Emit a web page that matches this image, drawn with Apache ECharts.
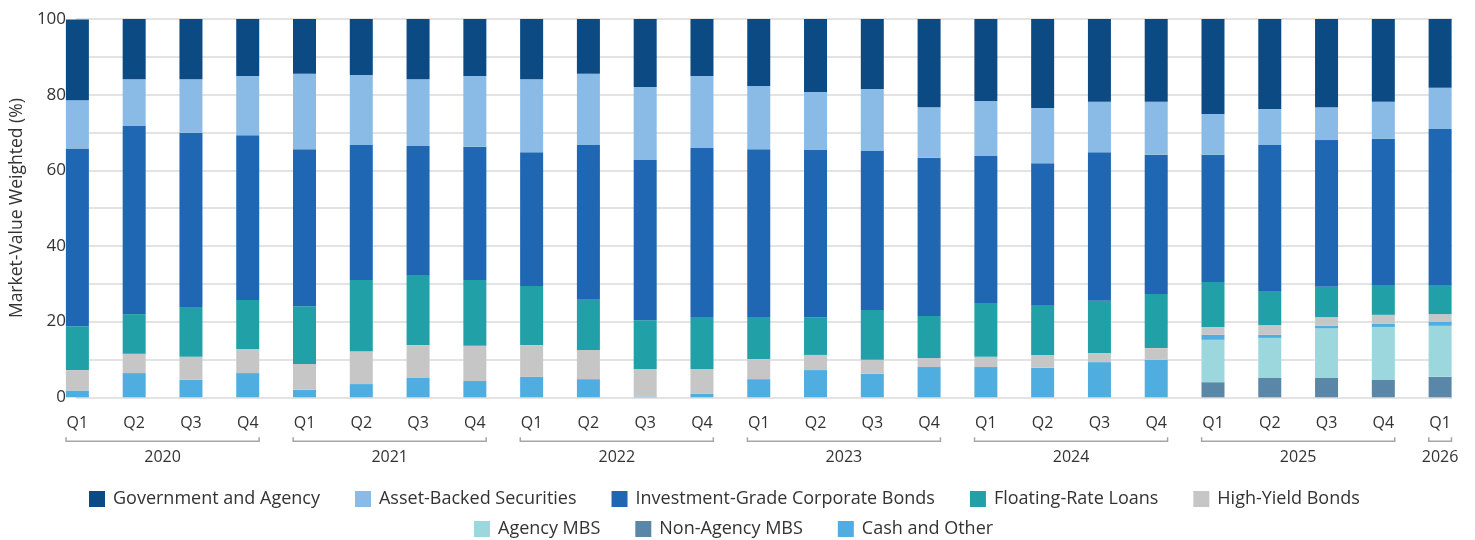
<!DOCTYPE html>
<html>
<head>
<meta charset="utf-8">
<script src="https://cdn.jsdelivr.net/npm/echarts@6/dist/echarts.min.js"></script>
<style>
  html, body { margin: 0; padding: 0; background: #fff; }
  #chart { width: 1475px; height: 540px; }
</style>
</head>
<body>
<div id="chart"></div>
<script>
const quarters = [
  'Q1','Q2','Q3','Q4', 'Q1','Q2','Q3','Q4', 'Q1','Q2','Q3','Q4',
  'Q1','Q2','Q3','Q4', 'Q1','Q2','Q3','Q4', 'Q1','Q2','Q3','Q4', 'Q1'
];

// year groups: first and last quarter index of each year
const yearLabels = ['2020', '2021', '2022', '2023', '2024', '2025', '2026'];
const yearStart = [0, 4, 8, 12, 16, 20, 24];
const yearEnd = [3, 7, 11, 15, 19, 23, 24];

// values in %, stacked bottom to top
const nonAgencyMbs = [0,0,0,0, 0,0,0,0, 0,0,0,0, 0,0,0,0, 0,0,0,0, 4.0,5.1,5.1,4.6, 5.4];
const agencyMbs = [0,0,0,0, 0,0,0,0, 0,0,0,0, 0,0,0,0, 0,0,0,0, 11.2,10.6,13.2,14.0, 13.5];
const cashOther = [1.8,6.4,4.6,6.4, 2.0,3.5,5.1,4.3, 5.4,4.8,0.2,0.9, 4.8,7.2,6.2,8.0, 8.0,7.8,9.3,9.9, 1.3,0.8,0.6,0.8, 1.0];
const highYield = [5.4,5.1,6.1,6.4, 6.8,8.7,8.7,9.3, 8.4,7.7,7.3,6.6, 5.3,4.0,3.7,2.4, 2.7,3.4,2.4,3.1, 2.1,2.6,2.3,2.4, 2.1];
const floatingRate = [11.6,10.5,13.2,12.9, 15.3,18.8,18.3,17.4, 15.6,13.5,12.9,13.5, 11.1,10.0,13.2,11.1, 14.2,13.2,13.8,14.3, 11.9,9.0,8.0,7.9, 7.7];
const igCorporate = [47.0,49.7,46.0,43.6, 41.5,35.7,34.3,35.2, 35.4,40.7,42.3,44.9, 44.4,44.2,42.0,41.8, 38.9,37.5,39.3,36.8, 33.6,38.6,38.8,38.6, 41.2];
const assetBacked = [12.7,12.4,14.2,15.6, 19.9,18.5,17.7,18.7, 19.3,18.8,19.3,19.0, 16.7,15.3,16.4,13.4, 14.5,14.6,13.3,14.0, 10.8,9.5,8.7,9.8, 10.9];
const govAgency = [21.4,15.9,15.9,15.1, 14.5,14.8,15.9,15.1, 15.9,14.5,18.0,15.1, 17.7,19.3,18.5,23.3, 21.7,23.5,21.9,21.9, 25.1,23.8,23.3,21.9, 18.2];

const FONT = '"Open Sans", "Noto Sans", sans-serif';
const TEXT = '#333333';

const stackSeries = [
  { name: 'Non-Agency MBS', data: nonAgencyMbs, color: '#5A87A8' },
  { name: 'Agency MBS', data: agencyMbs, color: '#9DD7DE' },
  { name: 'Cash and Other', data: cashOther, color: '#4FADE0' },
  { name: 'High-Yield Bonds', data: highYield, color: '#C6C6C6' },
  { name: 'Floating-Rate Loans', data: floatingRate, color: '#21A0A8' },
  { name: 'Investment-Grade Corporate Bonds', data: igCorporate, color: '#1F67B2' },
  { name: 'Asset-Backed Securities', data: assetBacked, color: '#8ABBE6' },
  { name: 'Government and Agency', data: govAgency, color: '#0B4A82' }
];

const chart = echarts.init(document.getElementById('chart'), null, { renderer: 'canvas' });

const legendBase = {
  orient: 'horizontal',
  icon: 'rect',
  itemWidth: 16,
  itemHeight: 16,
  itemGap: 35,
  padding: 0,
  selectedMode: false,
  textStyle: { fontFamily: FONT, fontSize: 18, color: TEXT, padding: [0, 0, 0, 3] }
};

const option = {
  backgroundColor: '#ffffff',
  animation: false,
  textStyle: { fontFamily: FONT },
  legend: [
    Object.assign({}, legendBase, {
      left: 89,
      top: 490,
      data: ['Government and Agency', 'Asset-Backed Securities', 'Investment-Grade Corporate Bonds',
             'Floating-Rate Loans', 'High-Yield Bonds']
    }),
    Object.assign({}, legendBase, {
      left: 474,
      top: 520,
      data: ['Agency MBS', 'Non-Agency MBS', 'Cash and Other']
    })
  ],
  grid: [
    // gridlines + y labels
    { left: 66, right: 23, top: 19, bottom: 142.7 },
    // bars
    { left: 49, right: 6.5, top: 19, bottom: 142.7 }
  ],
  xAxis: [
    { type: 'value', gridIndex: 0, show: false, min: 0, max: 1 },
    {
      type: 'category',
      gridIndex: 1,
      data: quarters,
      axisLine: { show: false },
      axisTick: { show: false },
      axisLabel: { color: TEXT, fontSize: 16, fontFamily: FONT, margin: 18, interval: 0 }
    }
  ],
  yAxis: [
    {
      type: 'value',
      gridIndex: 0,
      min: 0,
      max: 100,
      interval: 10,
      name: 'Market-Value Weighted (%)',
      nameLocation: 'middle',
      nameGap: 46,
      nameTextStyle: { color: TEXT, fontSize: 17.5, fontFamily: FONT },
      axisLine: { show: false },
      axisTick: { show: false },
      axisLabel: {
        color: TEXT,
        fontSize: 17,
        fontFamily: FONT,
        margin: 10,
        formatter: v => (v % 20 === 0 ? String(v) : '')
      },
      splitLine: { show: true, lineStyle: { color: '#E3E3E3', width: 2 } }
    },
    { type: 'value', gridIndex: 1, min: 0, max: 100, show: false, splitLine: { show: false } }
  ],
  series: stackSeries.map(s => ({
    name: s.name,
    type: 'bar',
    stack: 'total',
    xAxisIndex: 1,
    yAxisIndex: 1,
    barWidth: 23,
    itemStyle: { color: s.color },
    emphasis: { disabled: true },
    data: s.data
  })).concat([{
    name: 'years',
    type: 'custom',
    xAxisIndex: 1,
    yAxisIndex: 1,
    clip: false,
    silent: true,
    data: yearStart.map((s, i) => [s, yearEnd[i], 0]),
    encode: { x: [0, 1], y: 2 },
    renderItem: (params, api) => {
      const half = api.size([1, 0])[0] * 0.2;
      const p0 = api.coord([api.value(0), 0]);
      const p1 = api.coord([api.value(1), 0]);
      const x0 = p0[0] - half;
      const x1 = p1[0] + half;
      const y = p0[1] + 44;
      return {
        type: 'group',
        children: [
          {
            type: 'polyline',
            shape: { points: [[x0, y - 4], [x0, y], [x1, y], [x1, y - 4]] },
            style: { stroke: '#A6A6A6', lineWidth: 1.5, fill: null }
          },
          {
            type: 'text',
            style: {
              text: yearLabels[params.dataIndex],
              x: (x0 + x1) / 2,
              y: y + 16,
              align: 'center',
              verticalAlign: 'middle',
              fontSize: 16,
              fontFamily: FONT,
              fill: TEXT
            }
          }
        ]
      };
    }
  }])
};

chart.setOption(option);
</script>
</body>
</html>
